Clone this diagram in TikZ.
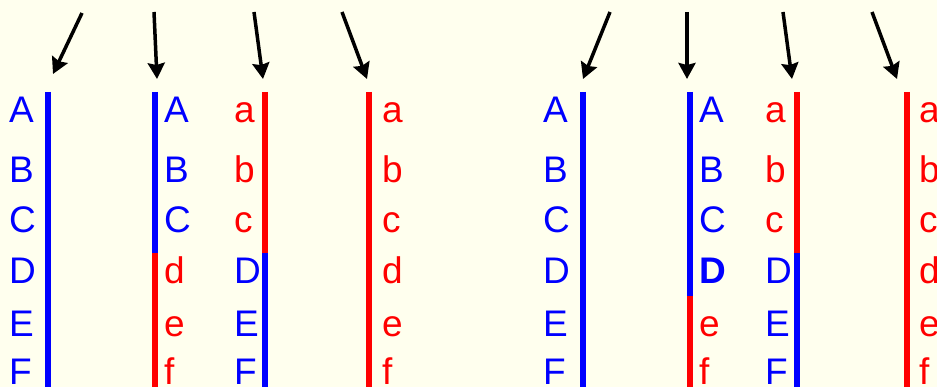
\documentclass[tikz,border=0pt]{standalone}
\usepackage{fontspec}
\setmainfont{Liberation Sans}
\usetikzlibrary{arrows.meta}
\definecolor{paper}{HTML}{FFFFEE}
\definecolor{capblue}{HTML}{0000FF}
\definecolor{smallred}{HTML}{FF0000}

\begin{document}
\begin{tikzpicture}[x=1pt,y=-1pt,
    letter/.style={anchor=base west,inner sep=0pt,font=\fontsize{37}{40}\selectfont},
    up/.style={letter,text=capblue},
    low/.style={letter,text=smallred},
    bluebar/.style={draw=capblue,line width=6pt},
    redbar/.style={draw=smallred,line width=6pt},
    pointer/.style={-{Stealth[length=16pt,width=17pt,inset=2pt]},line width=3.5pt}]
  \path[fill=paper,use as bounding box] (0,0) rectangle (937,387);
  \clip (0,0) rectangle (937,387);

  % strand tops
  \coordinate (bar1) at (48,92);
  \coordinate (bar2) at (155,92);
  \coordinate (bar3) at (265,92);
  \coordinate (bar4) at (369,92);
  \coordinate (bar5) at (583,92);
  \coordinate (bar6) at (690,92);
  \coordinate (bar7) at (797,92);
  \coordinate (bar8) at (907,92);

  % strands, left pair
  \draw[bluebar] (bar1) -- ++(0,295);
  \draw[bluebar] (bar2) -- ++(0,161);
  \draw[redbar] ([yshift=-161pt]bar2) -- ++(0,134);
  \draw[redbar] (bar3) -- ++(0,161);
  \draw[bluebar] ([yshift=-161pt]bar3) -- ++(0,134);
  \draw[redbar] (bar4) -- ++(0,295);

  % strands, right pair
  \draw[bluebar] (bar5) -- ++(0,295);
  \draw[bluebar] (bar6) -- ++(0,204);
  \draw[redbar] ([yshift=-204pt]bar6) -- ++(0,91);
  \draw[redbar] (bar7) -- ++(0,161);
  \draw[bluebar] ([yshift=-161pt]bar7) -- ++(0,134);
  \draw[redbar] (bar8) -- ++(0,295);

  % letters
  \foreach \y/\u/\l [count=\i] in {123/A/a,183/B/b,233/C/c,284/D/d,337/E/e,384/F/f}{
    \node[up] (p1-\i) at (9,\y) {\u};
    \node[low] (p4-\i) at (382,\y) {\l};
    \node[up] (p5-\i) at (543,\y) {\u};
    \node[low] (p8-\i) at (919,\y) {\l};
  }
  \foreach \y/\u/\l [count=\i] in {123/A/a,183/B/b,233/C/c}{
    \node[up] (p2-\i) at (164,\y) {\u};
    \node[low] (p3-\i) at (234,\y) {\l};
    \node[up] (p6-\i) at (699,\y) {\u};
    \node[low] (p7-\i) at (765,\y) {\l};
  }
  \foreach \y/\u/\l [count=\i from 4] in {284/D/d,337/E/e,384/F/f}{
    \node[low] (p2-\i) at (164,\y) {\l};
    \node[up] (p3-\i) at (234,\y) {\u};
    \node[up] (p7-\i) at (765,\y) {\u};
  }
  \node[up,font=\fontsize{37}{40}\selectfont\bfseries] (p6-4) at (699,284) {D};
  \node[low] (p6-5) at (699,337) {e};
  \node[low] (p6-6) at (699,384) {f};

  % arrows
  \coordinate (from1) at (82,13);  \coordinate (to1) at (53,74);
  \coordinate (from2) at (154,12); \coordinate (to2) at (157,79);
  \coordinate (from3) at (254,12); \coordinate (to3) at (263,79);
  \coordinate (from4) at (342,12); \coordinate (to4) at (367,79);
  \coordinate (from5) at (610,12); \coordinate (to5) at (583,79);
  \coordinate (from6) at (687,12); \coordinate (to6) at (687,79);
  \coordinate (from7) at (783,12); \coordinate (to7) at (792,79);
  \coordinate (from8) at (872,12); \coordinate (to8) at (897,79);
  \foreach \k in {1,...,8}
    \draw[pointer] (from\k) -- (to\k);
\end{tikzpicture}
\end{document}
